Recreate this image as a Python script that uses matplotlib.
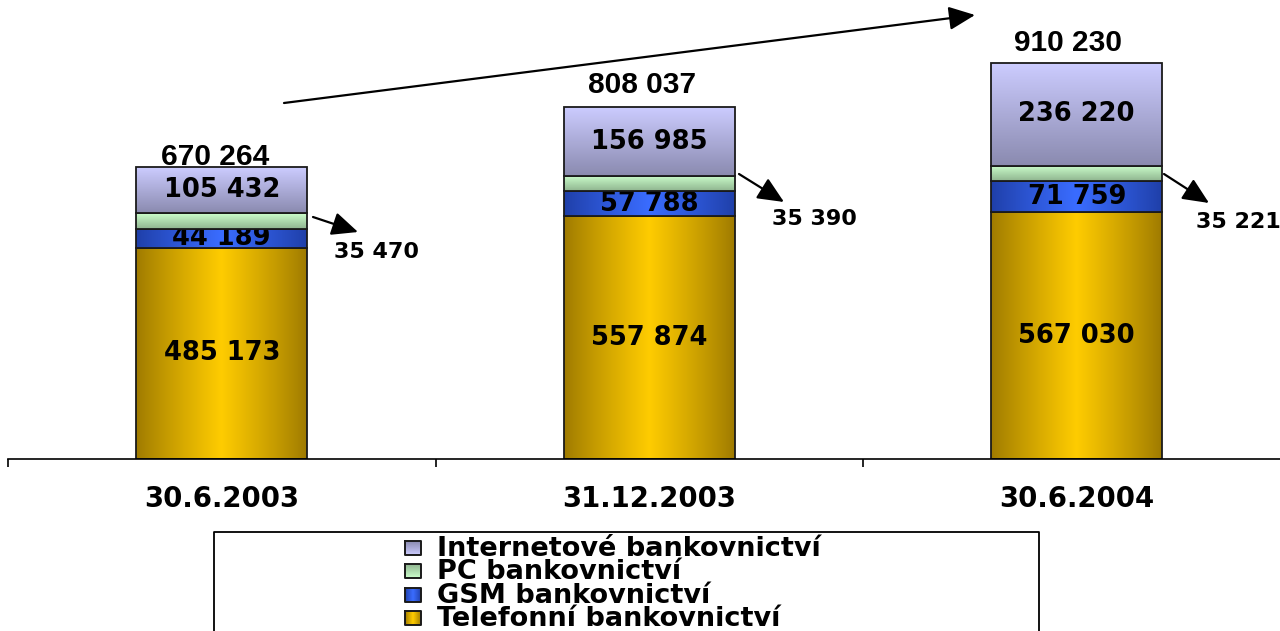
import numpy as np
import matplotlib
matplotlib.use("Agg")
import matplotlib.pyplot as plt
from matplotlib.colors import to_rgb

# ---- data -------------------------------------------------------------
dates = ["30.6.2003", "31.12.2003", "30.6.2004"]
telefonni = [485173, 557874, 567030]
gsm = [44189, 57788, 71759]
pc = [35470, 35390, 35221]
internet = [105432, 156985, 236220]
series_names = ["Telefonní bankovnictví", "GSM bankovnictví",
                "PC bankovnictví", "Internetové bankovnictví"]

# ---- styling ----------------------------------------------------------
BOLD_WIDE = "DejaVu Sans"
BOLD_ARIAL = "Liberation Sans"

# (edge/bottom colour, centre/top colour, gradient direction)
styles = [
    ("#9e7a00", "#ffcc00", "h"),   # telefonní
    ("#1f3fa8", "#3a6cff", "h"),   # GSM
    ("#8fb48f", "#ccffcc", "v"),   # PC
    ("#8a8aaf", "#ccccff", "v"),   # internet
]


def fmt(v):
    return f"{v:,}".replace(",", " ")


def gradient(dark, light, direction, n=256):
    d = np.array(to_rgb(dark))
    l = np.array(to_rgb(light))
    t = np.linspace(0, 1, n)
    if direction == "h":
        w = 1 - np.abs(2 * t - 1)
        w = w ** 0.9
        img = d + (l - d) * w[:, None]
        return img[None, :, :]
    # vertical: light at top, dark at bottom (origin='upper')
    img = l + (d - l) * t[:, None]
    return img[:, None, :]


W, H = 1280, 631
fig = plt.figure(figsize=(W / 100, H / 100), dpi=100)

# axes geometry
x0_px, base_px = 8, 459
cat_px = 427.5
ymax = 1_000_000
px_per_unit = 396 / 910230
ax = fig.add_axes([x0_px / W, (H - base_px) / H,
                   3 * cat_px / W, ymax * px_per_unit / H])

x = np.arange(len(dates))
bar_w = 0.4
layers = [telefonni, gsm, pc, internet]
bottoms = np.zeros(len(dates))
totals = np.sum(layers, axis=0)

for k, vals in enumerate(layers):
    dark, light, direction = styles[k]
    bars = ax.bar(x, vals, bottom=bottoms, width=bar_w, facecolor="none",
                  edgecolor="#1a1a1a", linewidth=1.3, zorder=2.5 + 2 * k)
    for patch in bars:
        bx, by = patch.get_x(), patch.get_y()
        bw, bh = patch.get_width(), patch.get_height()
        im = ax.imshow(gradient(dark, light, direction),
                       extent=[bx, bx + bw, by, by + bh], origin="upper",
                       aspect="auto", interpolation="bilinear", zorder=2 + 2 * k)
        im.set_clip_path(patch)
    if k != 2:
        for i, v in enumerate(vals):
            ax.text(x[i], bottoms[i] + v / 2, fmt(v), ha="center", va="center",
                    fontsize=18.5, fontweight="bold", family=BOLD_WIDE,
                    color="black", zorder=3 + 2 * k)
    bottoms = bottoms + np.array(vals)

ax.set_xlim(-0.5, 2.5)
ax.set_ylim(0, ymax)

# totals above the bars (offsets in points from the bar top)
total_offsets = [(-4.5, 7.5), (-5, 16), (-6.5, 14.5)]
for i, t in enumerate(totals):
    ax.annotate(fmt(t), xy=(x[i], t), xytext=total_offsets[i],
                textcoords="offset points", ha="center", va="center",
                fontsize=21.5, fontweight="bold", family=BOLD_ARIAL,
                annotation_clip=False, zorder=12)


def px_to_data(px, py):
    return ((px - x0_px) / cat_px - 0.5, (base_px - py) / px_per_unit)


arrow_style = dict(arrowstyle="-|>,head_length=0.8,head_width=0.36",
                   mutation_scale=20, color="black", lw=1.6,
                   shrinkA=0, shrinkB=0)

# PC values pointed out by small arrows
pc_arrows = [((313, 217), (358, 232), (376, 252)),
             ((739, 174), (784, 202), (814, 219)),
             ((1164, 174), (1209, 203), (1238, 222))]
for i, (start, tip, lab) in enumerate(pc_arrows):
    ax.annotate("", xy=px_to_data(*tip), xytext=px_to_data(*start),
                arrowprops=arrow_style, annotation_clip=False)
    ax.text(*px_to_data(*lab), fmt(pc[i]), ha="center", va="center",
            fontsize=16, fontweight="bold", family=BOLD_WIDE, clip_on=False)

# growth arrow
ax.annotate("", xy=px_to_data(975, 15), xytext=px_to_data(284, 103),
            arrowprops=arrow_style, annotation_clip=False)

# axis styling
for s in ("left", "right", "top"):
    ax.spines[s].set_visible(False)
ax.spines["bottom"].set_linewidth(1.2)
ax.set_yticks([])
ax.set_xticks(x)
ax.set_xticklabels(dates, fontsize=19.8, fontweight="bold", family=BOLD_WIDE)
ax.tick_params(axis="x", which="major", length=0, pad=18.5)
ax.set_xticks([-0.5, 0.5, 1.5, 2.5], minor=True)
ax.tick_params(axis="x", which="minor", length=6, width=1.2, direction="out")

# legend box
lx0, lx1, ly0 = 213, 1040, 532
lax = fig.add_axes([lx0 / W, 0, (lx1 - lx0) / W, (H - ly0 + 1) / H])
lax.set_xlim(lx0, lx1)
lax.set_ylim(H, ly0 - 1)
lax.axis("off")
lax.plot([lx0 + 1, lx0 + 1, lx1 - 1, lx1 - 1], [H + 5, ly0, ly0, H + 5],
         color="black", lw=1.3, clip_on=False)
rows_y = [548, 571, 595, 618]
for row, k in zip(rows_y, [3, 2, 1, 0]):
    dark, light, direction = styles[k]
    m0, m1 = 405, 421
    lax.imshow(gradient(dark, light, direction), extent=[m0, m1, row + 7, row - 7],
               origin="upper" if direction == "h" else "lower",
               aspect="auto", interpolation="bilinear", zorder=2)
    lax.plot([m0, m1, m1, m0, m0], [row - 7, row - 7, row + 7, row + 7, row - 7],
             color="#1a1a1a", lw=1.4, zorder=3)
    lax.text(437, row + 1, series_names[k], ha="left", va="center",
             fontsize=19.5, fontweight="bold", family=BOLD_WIDE)
lax.set_xlim(lx0, lx1)
lax.set_ylim(H, ly0 - 1)

fig.savefig("out.png", dpi=100)
